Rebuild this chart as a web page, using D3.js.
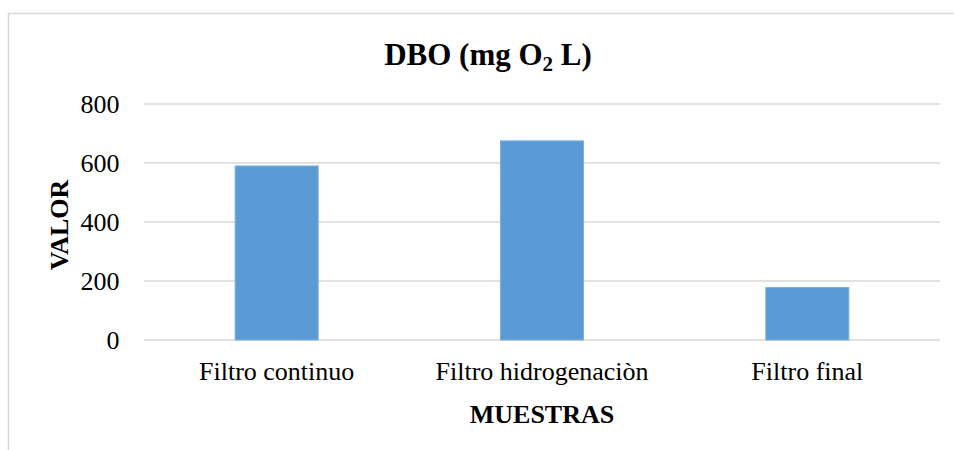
<!DOCTYPE html>
<html><head><meta charset="utf-8">
<script src="https://cdn.jsdelivr.net/npm/d3@7"></script>
<style>body{margin:0;background:#fff}svg{display:block}text{font-family:"Liberation Serif","Times New Roman",serif;fill:#000}</style>
</head><body><svg id="c" width="954" height="450"></svg>
<script>
const categories = ["Filtro continuo", "Filtro hidrogenaciòn", "Filtro final"];
const values = [590, 675, 178];
const yTicks = [0, 200, 400, 600, 800];
const titleMain = "DBO (mg O";
const titleSub = "2";
const titleEnd = " L)";
const xTitle = "MUESTRAS";
const yTitle = "VALOR";

const svg = d3.select("#c");
svg.append("rect").attr("x", 8.5).attr("y", 13.5).attr("width", 980).attr("height", 460)
  .attr("fill", "#fff").attr("stroke", "#d9d9d9").attr("stroke-width", 1.5);

const m = {left: 144, right: 940, top: 104, bottom: 340};
const x = d3.scaleBand().domain(categories).range([m.left, m.right]).paddingInner(0.687).paddingOuter(0.3435);
const y = d3.scaleLinear().domain([0, 800]).range([m.bottom, m.top]);

const grid = svg.append("g");
grid.selectAll("line").data(yTicks).join("line")
  .attr("x1", m.left).attr("x2", m.right)
  .attr("y1", d => y(d)).attr("y2", d => y(d))
  .attr("stroke", "#d9d9d9").attr("stroke-width", 1.5);

const yAxis = d3.axisLeft(y).tickValues(yTicks).tickSize(0).tickPadding(0);
const ya = svg.append("g").attr("transform", "translate(119.5,0)").call(yAxis);
ya.select(".domain").remove();
ya.selectAll("text").attr("font-size", 26).attr("font-family", "Liberation Serif").attr("fill", "#000").attr("dy", "0.32em");

svg.append("g").selectAll("rect").data(values).join("rect")
  .attr("x", (d, i) => x(categories[i])).attr("width", x.bandwidth())
  .attr("y", d => y(d)).attr("height", d => y(0) - y(d))
  .attr("fill", "#5b9bd5").attr("stroke", "#7eb0e0").attr("stroke-width", 1);

const xAxis = d3.axisBottom(x).tickSize(0).tickPadding(0);
const xa = svg.append("g").attr("transform", `translate(0,${m.bottom})`).call(xAxis);
xa.select(".domain").remove();
xa.selectAll("text").attr("font-size", 26).attr("font-family", "Liberation Serif").attr("fill", "#000").attr("dy", null).attr("y", 40);

svg.append("text").attr("x", (m.left + m.right) / 2).attr("y", 423).attr("text-anchor", "middle")
  .attr("font-size", 26).attr("font-weight", "bold").text(xTitle);

svg.append("text").attr("transform", "translate(68,225) rotate(-90)").attr("text-anchor", "middle")
  .attr("font-size", 26).attr("font-weight", "bold").text(yTitle);

const t = svg.append("text").attr("x", 488).attr("y", 65).attr("text-anchor", "middle")
  .attr("font-size", 31).attr("font-weight", "bold");
t.append("tspan").text(titleMain);
t.append("tspan").attr("font-size", 21).attr("dy", 6).text(titleSub);
t.append("tspan").attr("dy", -6).text(titleEnd);
</script></body></html>
